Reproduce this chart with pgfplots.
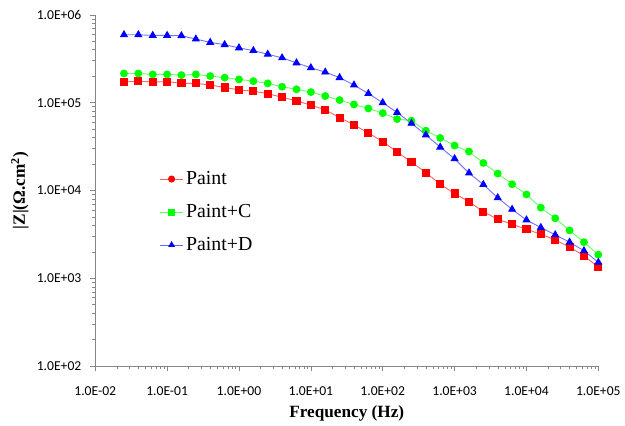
\documentclass[border=0pt]{standalone}
\usepackage{pgfplots}
\pgfplotsset{compat=1.18}
\usepackage{fontspec}
\setmainfont{Liberation Serif}
\newfontfamily\carlito{Carlito}
\definecolor{axgray}{RGB}{134,134,134}
\definecolor{pred}{RGB}{255,0,0}
\definecolor{pgreen}{RGB}{0,255,0}
\definecolor{pblue}{RGB}{0,0,255}
\begin{document}
\begin{tikzpicture}
\begin{axis}[
  scale only axis,
  width=380.25pt, height=265.5pt,
  xmode=log, ymode=log,
  xmin=1e-2, xmax=1e5, ymin=1e2, ymax=1e6,
  axis lines*=left,
  axis line style={axgray, line width=0.6pt},
  every tick/.style={axgray, line width=0.5pt},
  tick align=outside,
  major tick length=4pt, minor tick length=2.5pt,
  xtick={1e-2,1e-1,1e0,1e1,1e2,1e3,1e4,1e5},
  xticklabels={1.0E-02,1.0E-01,1.0E+00,1.0E+01,1.0E+02,1.0E+03,1.0E+04,1.0E+05},
  ytick={1e2,1e3,1e4,1e5,1e6},
  yticklabels={1.0E+02,1.0E+03,1.0E+04,1.0E+05,1.0E+06},
  tick label style={font=\carlito\fontsize{10.3}{12}\selectfont, black},
  xticklabel style={yshift=-8pt},
  yticklabel style={xshift=-3pt},
  xlabel={\textbf{Frequency (Hz)}},
  ylabel={\textbf{|Z|(Ω.cm\textsuperscript{2})}},
  label style={font=\fontsize{13}{15}\selectfont},
  xlabel style={at={(axis description cs:0.5,-0.135)}, anchor=center},
  ylabel style={at={(axis description cs:-0.150,0.5)}, anchor=center},
  legend style={at={(axis description cs:0.12,0.57)}, anchor=north west,
    draw=none, fill=none, font=\fontsize{15}{18}\selectfont,
    row sep=9.5pt, cells={anchor=west}},
  legend cell align=left,
  clip=false,
]
\addlegendimage{color=pred!65, line width=0.7pt, mark=*, mark size=2.3pt, mark options={draw=pred, fill=pred}}
\addlegendentry{Paint}
\addlegendimage{color=pgreen!65, line width=0.7pt, mark=square*, mark size=2.3pt, mark options={draw=pgreen, fill=pgreen}}
\addlegendentry{Paint+C}
\addlegendimage{color=pblue!60, line width=0.7pt, mark=triangle*, mark size=2.3pt, mark options={draw=pblue, fill=pblue}}
\addlegendentry{Paint+D}

\addplot[color=pred!60, line width=0.7pt, mark=square*, mark size=2.7pt, mark options={draw=pred, fill=pred}, forget plot] coordinates {
(0.0251,1.72e5)(0.0398,1.76e5)(0.0631,1.72e5)(0.1,1.74e5)(0.158,1.66e5)(0.251,1.66e5)(0.398,1.59e5)(0.631,1.49e5)(1,1.40e5)(1.585,1.35e5)(2.512,1.27e5)(3.981,1.15e5)(6.31,1.05e5)(10,9.37e4)(15.85,8.29e4)(25.12,6.77e4)(39.81,5.60e4)(63.1,4.52e4)(100,3.61e4)(158.5,2.74e4)(251.2,2.11e4)(398.1,1.60e4)(631,1.18e4)(1000,9.25e3)(1585,7.45e3)(2512,5.74e3)(3981,4.70e3)(6310,4.13e3)(10000,3.62e3)(15849,3.18e3)(25119,2.74e3)(39811,2.27e3)(63096,1.81e3)(100000,1.34e3)
};
\addplot[color=pgreen!60, line width=0.7pt, mark=*, mark size=2.6pt, mark options={draw=pgreen, fill=pgreen}, forget plot] coordinates {
(0.0251,2.15e5)(0.0398,2.15e5)(0.0631,2.10e5)(0.1,2.10e5)(0.158,2.06e5)(0.251,2.10e5)(0.398,2.01e5)(0.631,1.93e5)(1,1.84e5)(1.585,1.76e5)(2.512,1.66e5)(3.981,1.52e5)(6.31,1.42e5)(10,1.32e5)(15.85,1.19e5)(25.12,1.07e5)(39.81,9.55e4)(63.1,8.60e4)(100,7.61e4)(158.5,6.51e4)(251.2,6.23e4)(398.1,4.80e4)(631,3.97e4)(1000,3.25e4)(1585,2.78e4)(2512,2.06e4)(3981,1.56e4)(6310,1.18e4)(10000,9.01e3)(15849,6.38e3)(25119,4.83e3)(39811,3.51e3)(63096,2.58e3)(100000,1.86e3)
};
\addplot[color=pblue!55, line width=0.7pt, mark=triangle*, mark size=2.9pt, mark options={draw=pblue, fill=pblue}, forget plot] coordinates {
(0.0251,5.94e5)(0.0398,5.94e5)(0.0631,5.83e5)(0.1,5.83e5)(0.158,5.79e5)(0.251,5.31e5)(0.398,4.86e5)(0.631,4.58e5)(1,4.21e5)(1.585,3.92e5)(2.512,3.56e5)(3.981,3.24e5)(6.31,2.84e5)(10,2.50e5)(15.85,2.23e5)(25.12,1.93e5)(39.81,1.59e5)(63.1,1.27e5)(100,1.00e5)(158.5,7.74e4)(251.2,5.82e4)(398.1,4.29e4)(631,3.12e4)(1000,2.30e4)(1585,1.58e4)(2512,1.17e4)(3981,8.27e3)(6310,6.10e3)(10000,4.62e3)(15849,3.79e3)(25119,3.13e3)(39811,2.58e3)(63096,2.06e3)(100000,1.52e3)
};
\end{axis}
\path (current axis.south west) ++(-72pt,-42pt) coordinate (bbA);
\path (current axis.north east) ++(16.5pt,11.25pt) coordinate (bbB);
\useasboundingbox (bbA) rectangle (bbB);
\end{tikzpicture}
\end{document}
